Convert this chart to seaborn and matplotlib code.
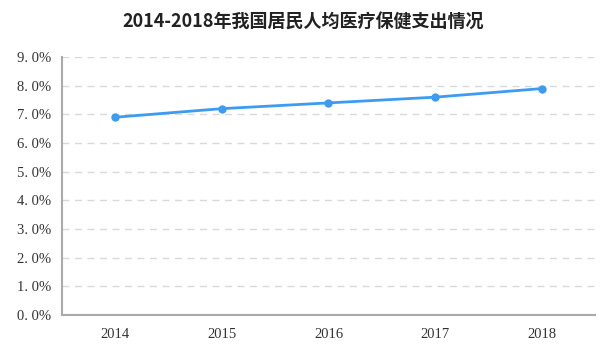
import matplotlib
matplotlib.use('Agg')
import matplotlib.pyplot as plt
import seaborn as sns
import pandas as pd
from matplotlib.ticker import FixedLocator, FuncFormatter

# Data
years = ['2014', '2015', '2016', '2017', '2018']
share = [6.9, 7.2, 7.4, 7.6, 7.9]  # percent
y_ticks = [0, 1, 2, 3, 4, 5, 6, 7, 8, 9]

df = pd.DataFrame({'pos': range(len(years)), 'share': share})

sns.set_style('white')
plt.rcParams['font.family'] = ['Liberation Serif', 'Noto Sans CJK SC', 'DejaVu Sans']

fig = plt.figure(figsize=(6.06, 3.5), dpi=100)
ax = fig.add_axes([0.1023, 0.1, 0.8795, 0.737])

sns.lineplot(data=df, x='pos', y='share', ax=ax, color='#3d9cf2',
             linewidth=2, marker='o', markersize=6, markeredgewidth=0)

ax.set_xlim(-0.5, len(years) - 0.5)
ax.set_ylim(0, 9)
ax.set_yticks(y_ticks)
ax.yaxis.set_major_formatter(FuncFormatter(lambda v, p: f'{v:.1f}%'.replace('.', '. ')))
ax.grid(axis='y', color='#d9d9d9', linestyle=(0, (5, 4)), linewidth=1)
ax.set_axisbelow(True)

# category axis: tick marks at boundaries, labels at centres
ax.xaxis.set_major_locator(FixedLocator(range(len(years))))
ax.set_xticklabels(years)
ax.xaxis.set_minor_locator(FixedLocator([i - 0.5 for i in range(len(years) + 1)]))
ax.tick_params(axis='x', which='major', length=0, pad=9, labelsize=10.5, labelcolor='#333333')
ax.tick_params(axis='x', which='minor', length=5, width=1.5, color='#aaaaaa')
ax.tick_params(axis='y', which='major', length=5, width=1.5, color='#aaaaaa',
               labelsize=10.5, labelcolor='#333333', pad=3)

for side in ['top', 'right']:
    ax.spines[side].set_visible(False)
for side in ['left', 'bottom']:
    ax.spines[side].set_color('#aaaaaa')
    ax.spines[side].set_linewidth(1.5)

ax.set_xlabel('')
ax.set_ylabel('')

fig.text(0.5, 0.937, '2014-2018年我国居民人均医疗保健支出情况', ha='center', va='center',
         fontsize=13, fontweight='bold', color='#222222',
         family=['Noto Sans CJK SC', 'DejaVu Sans'])

fig.savefig('out.png', dpi=100)
